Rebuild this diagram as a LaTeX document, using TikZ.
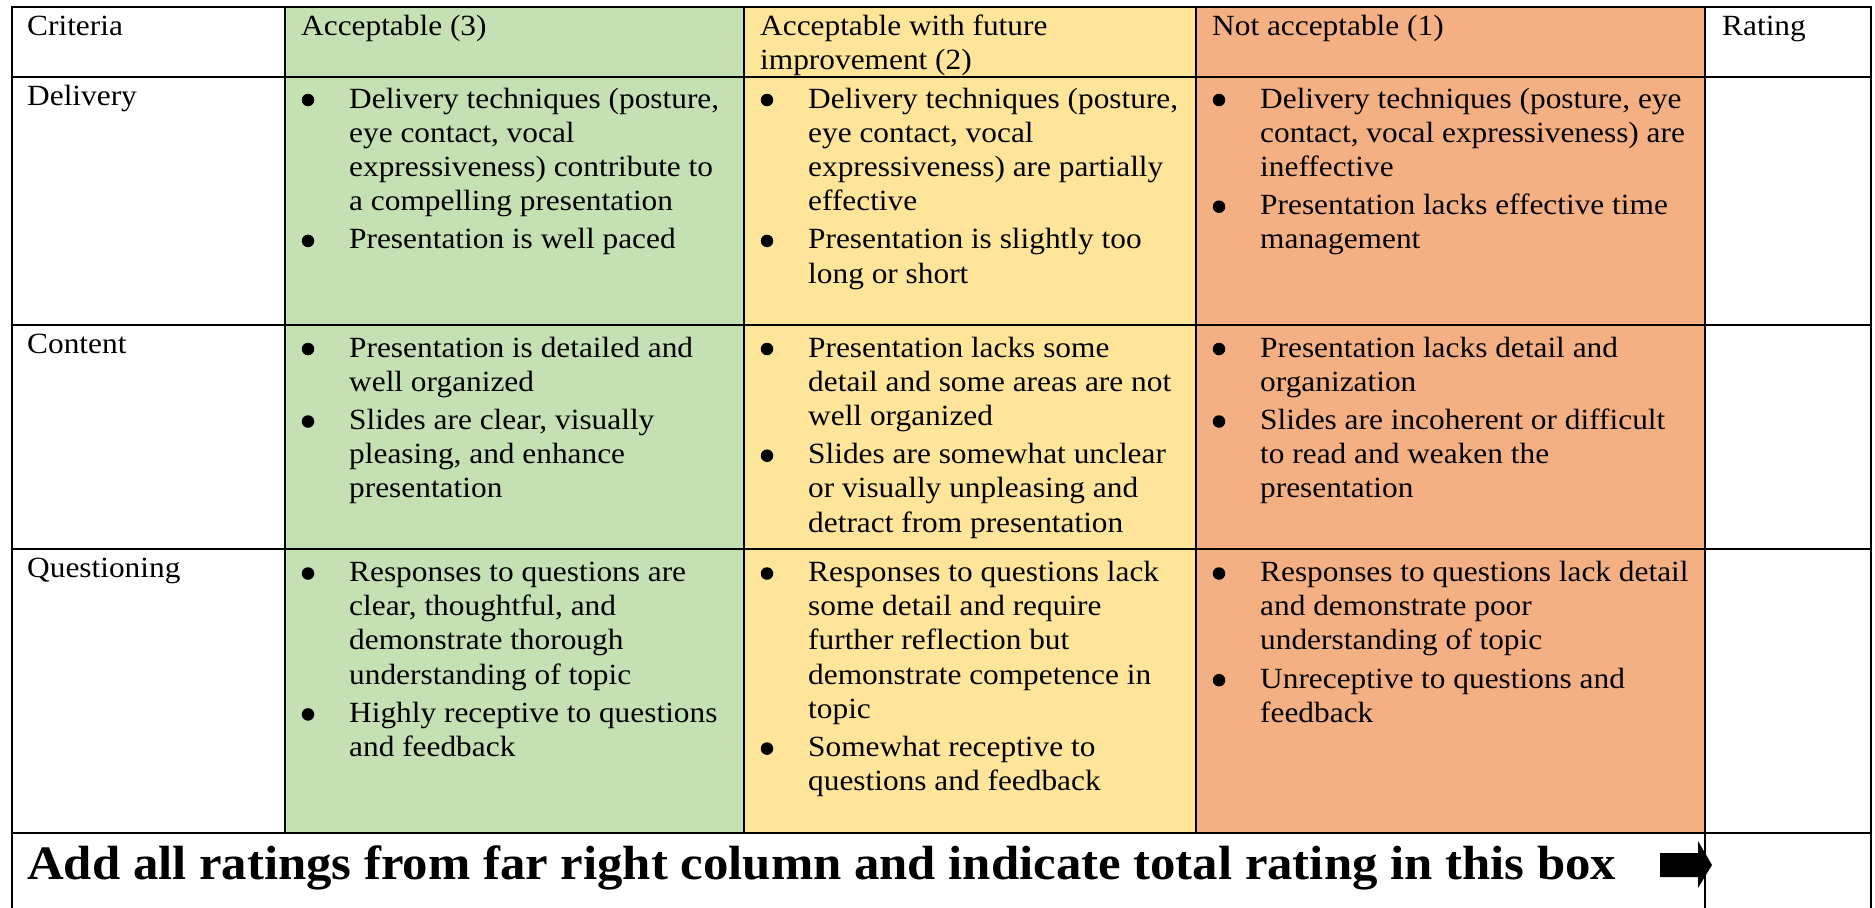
\documentclass[tikz,border=0pt]{standalone}
\usepackage{fontspec}
\setmainfont{Liberation Serif}[FakeStretch=1.07]
\newfontfamily\bigboldfont{Liberation Serif}[FakeStretch=1.058]
\definecolor{cgreen}{HTML}{C5E0B3}
\definecolor{cyellow}{HTML}{FFE599}
\definecolor{corange}{HTML}{F4B083}
\tikzset{
  txt/.style={anchor=base west, inner sep=0pt, font=\fontsize{29.3}{34.2}\selectfont},
  bul/.style={circle, fill=black, inner sep=0pt, minimum size=12.5pt},
  grid/.style={line width=2.6pt, line cap=rect},
  vgrid/.style={line width=2.6pt},
  bigtxt/.style={anchor=base west, inner sep=0pt, font=\bigboldfont\bfseries\fontsize{48}{56}\selectfont},
}
\newcommand\bitem[4]{%
  \node[bul] (#1b) at (#2+23, #3-8) {};
  \foreach \t [count=\i from 0] in {#4} {\node[txt] (#1l\i) at (#2+64, #3+\i*34.2) {\t};}
}
\begin{document}
\begin{tikzpicture}[x=1pt, y=-1pt]
\useasboundingbox (0,0) rectangle (1875,908);
% column fills
\fill[cgreen]  (285,7) rectangle (744,833);
\fill[cyellow] (744,7) rectangle (1196,833);
\fill[corange] (1196,7) rectangle (1705,833);
% grid lines
\draw[grid] (12,7) -- (1871,7);
\draw[grid] (12,77) -- (1871,77);
\draw[grid] (12,325) -- (1871,325);
\draw[grid] (12,549) -- (1871,549);
\draw[grid] (12,833) -- (1871,833);
\draw[vgrid] (12,6) -- (12,910);
\draw[grid] (285,7) -- (285,833);
\draw[grid] (744,7) -- (744,833);
\draw[grid] (1196,7) -- (1196,833);
\draw[vgrid] (1705,6) -- (1705,910);
\draw[vgrid] (1871,6) -- (1871,910);
% header
\node[txt] (hcrit) at (27,35) {Criteria};
\node[txt] (hacc) at (301,35) {Acceptable (3)};
\node[txt] (hfut1) at (760,35) {Acceptable with future};
\node[txt] (hfut2) at (760,69.2) {improvement (2)};
\node[txt] (hnot) at (1212,35) {Not acceptable (1)};
\node[txt] (hrat) at (1722,35) {Rating};
% row labels
\node[txt] (rdel) at (27,105) {Delivery};
\node[txt] (rcon) at (27,353) {Content};
\node[txt] (rque) at (27,577) {Questioning};
% Delivery row
\bitem{dga}{285}{108}{{Delivery techniques (posture,},{eye contact, vocal},{expressiveness) contribute to},{a compelling presentation}}
\bitem{dgb}{285}{248.9}{{Presentation is well paced}}
\bitem{dya}{744}{108}{{Delivery techniques (posture,},{eye contact, vocal},{expressiveness) are partially},{effective}}
\bitem{dyb}{744}{248.9}{{Presentation is slightly too},{long or short}}
\bitem{doa}{1196}{108}{{Delivery techniques (posture, eye},{contact, vocal expressiveness) are},{ineffective}}
\bitem{dob}{1196}{214.7}{{Presentation lacks effective time},{management}}
% Content row
\bitem{cga}{285}{357}{{Presentation is detailed and},{well organized}}
\bitem{cgb}{285}{429.5}{{Slides are clear, visually},{pleasing, and enhance},{presentation}}
\bitem{cya}{744}{357}{{Presentation lacks some},{detail and some areas are not},{well organized}}
\bitem{cyb}{744}{463.7}{{Slides are somewhat unclear},{or visually unpleasing and},{detract from presentation}}
\bitem{coa}{1196}{357}{{Presentation lacks detail and},{organization}}
\bitem{cob}{1196}{429.5}{{Slides are incoherent or difficult},{to read and weaken the},{presentation}}
% Questioning row
\bitem{qga}{285}{581.5}{{Responses to questions are},{clear, thoughtful, and},{demonstrate thorough},{understanding of topic}}
\bitem{qgb}{285}{722.4}{{Highly receptive to questions},{and feedback}}
\bitem{qya}{744}{581.5}{{Responses to questions lack},{some detail and require},{further reflection but},{demonstrate competence in},{topic}}
\bitem{qyb}{744}{756.6}{{Somewhat receptive to},{questions and feedback}}
\bitem{qoa}{1196}{581.5}{{Responses to questions lack detail},{and demonstrate poor},{understanding of topic}}
\bitem{qob}{1196}{688.2}{{Unreceptive to questions and},{feedback}}
% total row
\node[bigtxt] (total) at (27,879) {Add all ratings from far right column and indicate total rating in this box};
\fill (1660,853) -- (1698,853) -- (1698,841) -- (1712,865) -- (1698,888) -- (1698,877) -- (1660,877) -- cycle;
\end{tikzpicture}
\end{document}
